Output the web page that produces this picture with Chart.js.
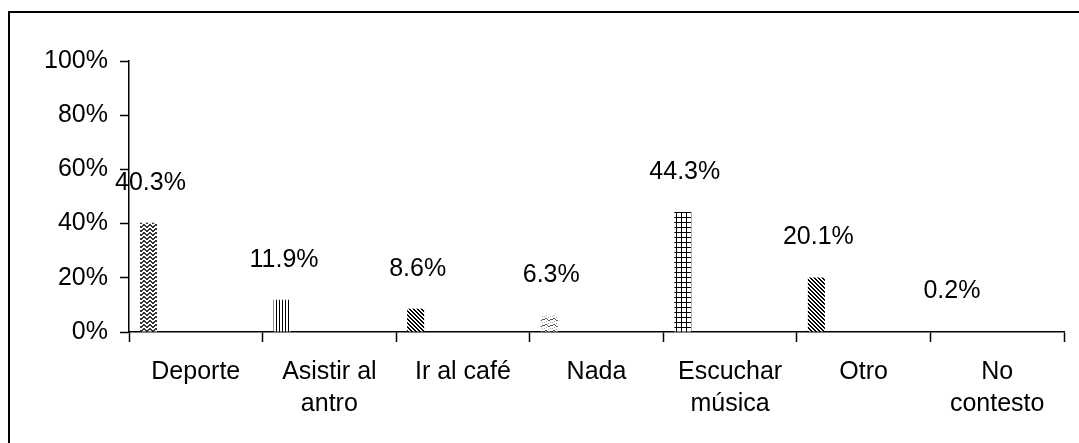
<!DOCTYPE html>
<html>
<head>
<meta charset="utf-8">
<script src="https://cdn.jsdelivr.net/npm/chart.js@4.4.1/dist/chart.umd.min.js"></script>
<style>
  html, body { margin: 0; padding: 0; background: #fff; }
  #marco { position: absolute; left: 8px; top: 11px; width: 1100px; height: 500px;
           border-left: 2px solid #000; border-top: 2px solid #000; }
  #caja { position: absolute; left: 0; top: 0; width: 1079px; height: 443px; }
</style>
</head>
<body>
<div id="marco"></div>
<div id="caja"><canvas id="graficoActividades"></canvas></div>
<script>
// datos
var categorias = [['Deporte'], ['Asistir al', 'antro'], ['Ir al café'], ['Nada'], ['Escuchar', 'música'], ['Otro'], ['No', 'contesto']];
var porcentajes = [40.3, 11.9, 8.6, 6.3, 44.3, 20.1, 0.2];
var etiquetasY = [0, 20, 40, 60, 80, 100];

// tramas estilo Excel
function trama(w, h, dibujar) {
    var c = document.createElement('canvas');
    c.width = w; c.height = h;
    var g = c.getContext('2d');
    g.fillStyle = '#fff';
    g.fillRect(0, 0, w, h);
    g.fillStyle = '#000';
    dibujar(g);
    return document.createElement('canvas').getContext('2d').createPattern(c, 'repeat');
}

function puntos(g, lista) {
    lista.forEach(function (p) { g.fillRect(p[0], p[1], 1, 1); });
}

function diagonal(periodo, grosor) {
    return trama(periodo, periodo, function (g) {
        for (var i = 0; i < periodo; i++) {
            for (var k = 0; k < grosor; k++) g.fillRect((i + k) % periodo, i, 1, 1);
        }
    });
}

var tramas = [
    // zigzag
    trama(6, 4, function (g) {
        g.fillStyle = '#333';
        puntos(g, [[0,0],[1,1],[2,2],[3,2],[4,1],[5,0],[0,1],[1,2],[2,3],[3,3],[4,2],[5,1]]);
    }),
    // verticales
    trama(3, 3, function (g) { g.fillRect(0, 0, 1, 3); }),
    // diagonal ancha
    diagonal(4, 2),
    // ondas
    trama(8, 6, function (g) {
        g.fillStyle = '#555';
        puntos(g, [[0,1],[1,0],[2,0],[3,1],[4,2],[5,2],[6,1],[7,1]]);
        g.fillStyle = '#aaa';
        puntos(g, [[0,4],[2,3],[4,5],[6,4]]);
    }),
    // cuadricula
    trama(5, 5, function (g) { g.fillRect(1, 0, 1, 5); g.fillRect(0, 2, 5, 1); }),
    // diagonal fina
    diagonal(4, 2),
    '#000'
];

var fuente = { family: '"Liberation Sans", Arial, sans-serif', size: 25, lineHeight: 1.28 };

var etiquetasBarras = {
    id: 'etiquetasBarras',
    afterDatasetsDraw: function (chart) {
        var ctx = chart.ctx;
        var meta = chart.getDatasetMeta(0);
        ctx.save();
        ctx.font = '25px "Liberation Sans", Arial, sans-serif';
        ctx.fillStyle = '#000';
        ctx.textAlign = 'center';
        ctx.textBaseline = 'middle';
        meta.data.forEach(function (barra, i) {
            ctx.fillText(porcentajes[i].toFixed(1) + '%', barra.x + 2, barra.y - 40);
        });
        ctx.restore();
    }
};

var ctx = document.getElementById('graficoActividades').getContext('2d');

var grafico = new Chart(ctx, {
    type: 'bar',
    data: {
        labels: categorias,
        datasets: [
            { data: porcentajes, backgroundColor: tramas, borderWidth: 0 },
            // series vacias, como en la hoja original, que reservan el espacio del grupo
            { data: [] }, { data: [] }, { data: [] }
        ]
    },
    options: {
        responsive: true,
        maintainAspectRatio: false,
        animation: false,
        categoryPercentage: 0.944,
        barPercentage: 0.54,
        layout: { padding: { top: 61, right: 15, left: 0, bottom: 0 } },
        plugins: { legend: { display: false }, tooltip: { enabled: false } },
        scales: {
            x: {
                grid: { drawOnChartArea: false, offset: true, color: '#000', tickLength: 10, tickWidth: 1.5 },
                border: { color: '#000', width: 1.5 },
                ticks: { color: '#000', font: fuente, padding: 14, maxRotation: 0, autoSkip: false },
                afterFit: function (s) { s.height = 111; }
            },
            y: {
                min: 0,
                max: 100,
                afterBuildTicks: function (s) { s.ticks = etiquetasY.map(function (v) { return { value: v }; }); },
                grid: { drawOnChartArea: false, color: '#000', tickLength: 9, tickWidth: 1.5 },
                border: { color: '#000', width: 1.5 },
                ticks: { color: '#000', font: fuente, padding: 12, callback: function (v) { return v + '%'; } },
                afterFit: function (s) { s.width = 129; }
            }
        }
    },
    plugins: [etiquetasBarras]
});
</script>
</body>
</html>
